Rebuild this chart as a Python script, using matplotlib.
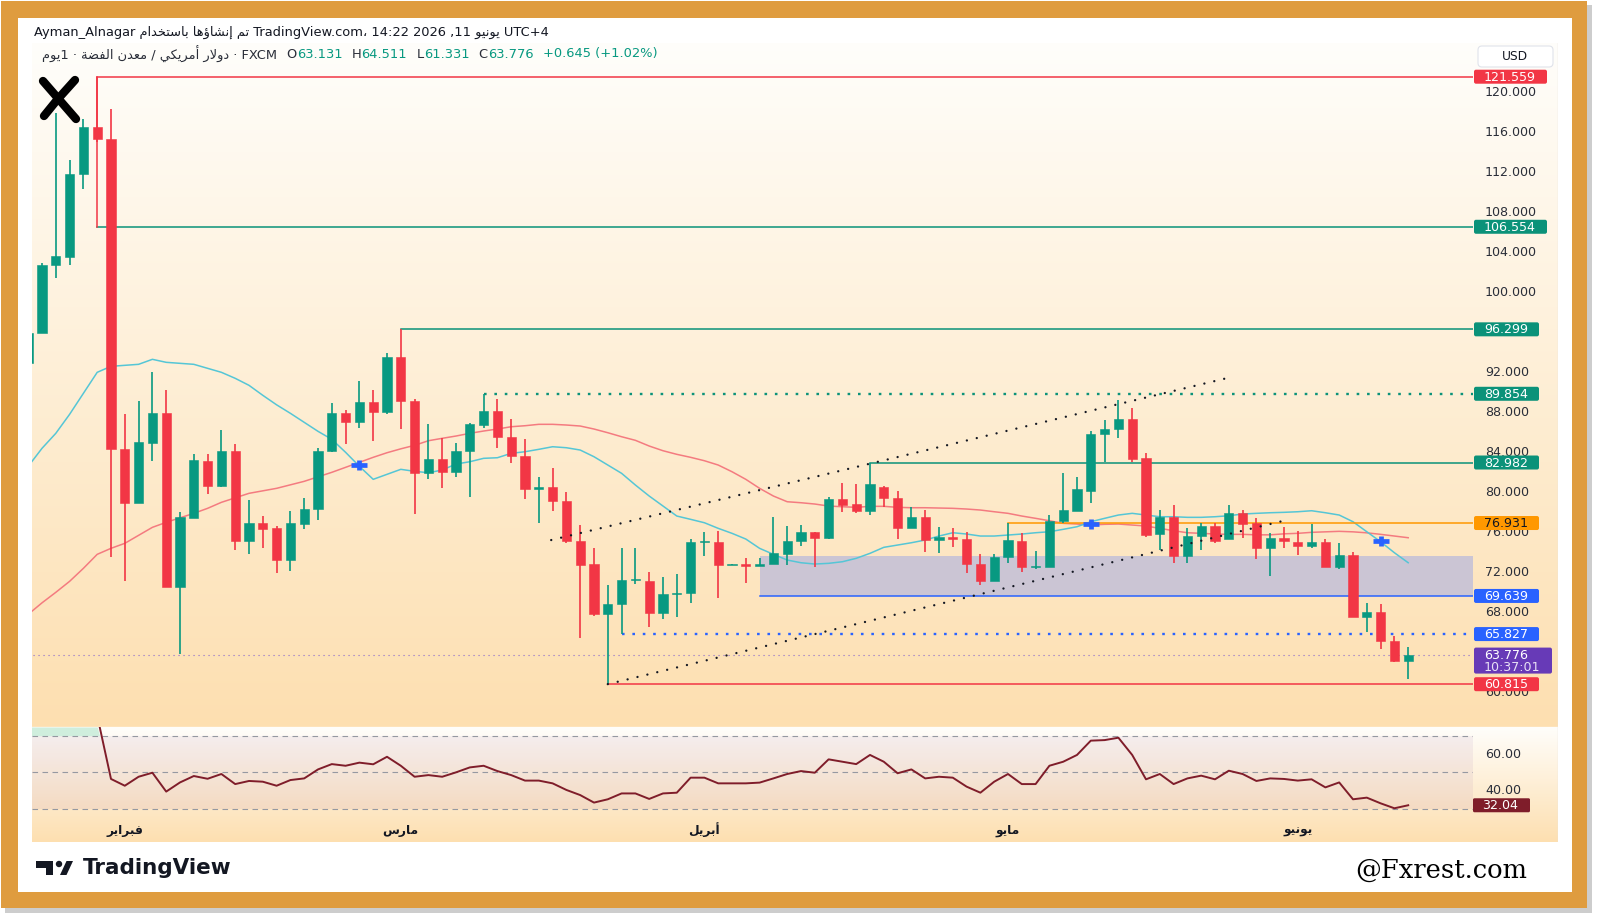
import numpy as np
import matplotlib
matplotlib.use('Agg')
import matplotlib.pyplot as plt
from matplotlib.patches import Rectangle, FancyBboxPatch, Circle, Polygon

plt.rcParams['font.family'] = ['DejaVu Sans']

# ---------------- data (daily bars, first entry is the partly hidden bar -1) ----------------
first_bar = -1
opens = [92.96,
         95.95, 102.73, 103.57, 111.81, 116.53, 115.38, 84.34, 78.98, 84.92, 87.98,
         70.55, 77.45, 83.12, 80.59, 84.15, 75.15, 76.98, 76.41, 73.23, 76.87,
         78.33, 84.15, 87.98, 87.02, 89.0, 88.06, 93.54, 89.13, 81.9, 83.3,
         82.0, 84.13, 86.73, 88.13, 85.56, 83.63, 80.33, 80.5, 79.13, 75.13,
         72.8, 67.8, 68.83, 71.2, 71.16, 67.96, 69.83, 69.9, 75.0, 75.06,
         72.73, 72.76, 72.66, 72.83, 73.83, 75.13, 76.0, 75.46, 79.33, 78.8,
         78.16, 80.56, 79.46, 76.4, 77.5, 75.23, 75.5, 75.33, 72.83, 71.16,
         73.5, 75.13, 72.5, 72.56, 77.16, 78.16, 80.16, 85.83, 86.3, 87.3,
         83.4, 75.8, 77.56, 73.63, 75.66, 76.63, 75.3, 77.96, 76.9, 74.46,
         75.46, 75.06, 74.63, 75.0, 72.5, 73.73, 67.56, 68.06, 65.16, 63.131]
highs = [96.2,
         102.9, 117.9, 113.27, 117.29, 121.559, 118.36, 87.79, 89.13, 92.0, 90.28,
         78.02, 83.84, 83.84, 86.26, 84.8, 79.25, 77.6, 76.68, 78.13, 79.44,
         84.4, 88.94, 88.2, 91.1, 90.28, 93.9, 96.299, 89.3, 86.8, 85.4,
         84.9, 86.96, 89.854, 89.3, 87.3, 85.3, 81.5, 82.46, 80.06, 76.73,
         74.4, 70.73, 74.4, 74.4, 72.06, 71.5, 71.8, 75.3, 76.06, 76.13,
         72.8, 73.4, 73.4, 77.56, 76.63, 76.7, 76.0, 79.56, 80.9, 80.8,
         82.982, 80.6, 80.16, 78.56, 78.23, 76.56, 76.4, 76.0, 73.8, 73.83,
         76.96, 75.9, 74.16, 77.73, 81.96, 81.5, 86.16, 87.23, 89.23, 88.4,
         83.9, 78.23, 78.73, 76.4, 76.9, 76.9, 78.73, 78.23, 77.46, 75.9,
         76.56, 76.16, 76.83, 75.33, 74.9, 73.996, 68.96, 68.83, 65.63, 64.511]
lows = [92.5,
        95.9, 101.4, 102.73, 110.32, 115.0, 73.5, 71.12, 78.9, 83.12, 70.5,
        63.84, 77.4, 79.82, 80.5, 74.26, 73.8, 74.45, 71.89, 72.16, 76.3,
        77.25, 84.0, 84.8, 86.45, 85.1, 87.8, 86.37, 77.83, 81.3, 80.4,
        81.56, 79.56, 86.46, 84.4, 82.9, 79.3, 76.96, 78.16, 74.9, 65.4,
        67.6, 60.815, 65.83, 70.83, 66.56, 67.33, 67.56, 68.96, 73.66, 69.46,
        72.7, 70.96, 72.6, 72.83, 72.73, 74.66, 72.56, 75.3, 78.06, 77.96,
        77.73, 78.56, 75.3, 76.4, 74.06, 73.9, 74.56, 71.9, 70.73, 71.16,
        72.9, 72.06, 72.3, 72.5, 76.96, 78.16, 78.96, 83.06, 85.46, 83.06,
        75.56, 74.23, 72.96, 72.96, 74.23, 74.9, 75.3, 75.4, 73.33, 71.63,
        74.4, 73.73, 74.4, 72.5, 72.3, 67.5, 66.06, 64.3, 63.06, 61.331]
closes = [95.95,
          102.73, 103.6, 111.85, 116.53, 115.38, 84.34, 78.98, 84.99, 87.98, 70.55,
          77.52, 83.19, 80.63, 84.15, 75.15, 76.98, 76.3, 73.23, 76.95, 78.33,
          84.15, 87.98, 87.02, 89.0, 88.06, 93.54, 89.13, 81.93, 83.3, 82.0,
          84.13, 86.8, 88.13, 85.56, 83.63, 80.33, 80.5, 79.13, 75.13, 72.73,
          67.8, 68.83, 71.23, 71.25, 67.96, 69.83, 69.9, 75.0, 75.06, 72.73,
          72.75, 72.66, 72.83, 73.9, 75.16, 76.0, 75.46, 79.33, 78.73, 78.16,
          80.83, 79.46, 76.4, 77.5, 75.23, 75.56, 75.3, 72.83, 71.16, 73.56,
          75.23, 72.5, 72.66, 77.16, 78.23, 80.3, 85.83, 86.33, 87.3, 83.3,
          75.73, 77.56, 73.63, 75.66, 76.63, 75.16, 77.96, 76.83, 74.46, 75.4,
          75.16, 74.63, 75.0, 72.5, 73.73, 67.56, 68.06, 65.13, 63.131, 63.776]
ma_fast = [82.6,
           84.4, 85.9, 87.8, 89.9, 92.0, 92.6, 92.7, 92.8, 93.3, 93.0,
           92.9, 92.8, 92.4, 92.0, 91.4, 90.7, 89.7, 88.75, 87.9, 87.0,
           86.1, 85.3, 84.0, 82.6, 81.3, 81.8, 82.3, 82.1, 81.96, 82.23,
           82.83, 83.06, 83.4, 83.46, 83.9, 84.06, 84.3, 84.56, 84.46, 84.23,
           83.56, 82.73, 81.9, 80.73, 79.63, 78.63, 77.63, 77.3, 76.96, 76.4,
           75.9, 75.33, 74.4, 73.8, 73.23, 72.96, 72.83, 72.9, 73.06, 73.4,
           73.9, 74.5, 74.73, 74.96, 75.23, 75.63, 75.96, 75.83, 75.63, 75.63,
           75.73, 75.83, 75.96, 76.06, 76.3, 76.56, 77.06, 77.4, 77.73, 77.9,
           77.73, 77.56, 77.56, 77.5, 77.5, 77.56, 77.66, 77.83, 77.9, 77.96,
           78.0, 78.06, 78.16, 77.96, 77.73, 77.06, 76.06, 75.06, 73.96, 72.96]
ma_slow = [67.8,
           68.95, 70.0, 71.1, 72.4, 73.8, 74.4, 74.9, 75.7, 76.5, 77.0,
           77.45, 77.9, 78.4, 79.0, 79.45, 79.9, 80.15, 80.4, 80.75, 81.1,
           81.55, 82.0, 82.5, 83.0, 83.5, 83.96, 84.35, 84.7, 85.16, 85.4,
           85.63, 85.9, 86.13, 86.33, 86.56, 86.66, 86.8, 86.8, 86.73, 86.63,
           86.33, 85.96, 85.56, 85.2, 84.63, 84.16, 83.8, 83.5, 83.16, 82.73,
           82.06, 81.3, 80.4, 79.63, 79.06, 78.96, 78.83, 78.63, 78.56, 78.5,
           78.6, 78.6, 78.5, 78.46, 78.46, 78.43, 78.4, 78.33, 78.23, 78.06,
           77.9, 77.63, 77.4, 77.16, 76.9, 76.83, 76.73, 76.8, 76.83, 76.73,
           76.63, 76.4, 76.16, 75.96, 75.9, 75.83, 75.8, 75.8, 75.75, 75.75,
           75.85, 75.9, 76.0, 76.05, 76.1, 76.05, 75.95, 75.8, 75.63, 75.46]
rsi = [78,
       82, 86, 88, 87, 81, 46.4, 42.7, 47.6, 49.8, 39.5,
       44.5, 48.0, 46.5, 49.1, 43.6, 45.3, 44.9, 42.7, 45.8, 46.7,
       51.6, 54.5, 53.6, 55.3, 54.4, 58.5, 53.6, 47.6, 48.5, 47.6,
       50.0, 52.7, 53.6, 50.7, 48.5, 45.5, 45.5, 44.0, 40.4, 37.6,
       33.5, 35.3, 38.5, 38.5, 35.5, 38.5, 38.9, 47.1, 47.1, 44.0,
       44.0, 44.0, 44.4, 46.7, 49.1, 50.7, 49.8, 57.1, 55.8, 54.5,
       59.5, 55.8, 49.5, 51.6, 46.7, 47.6, 47.1, 42.2, 38.9, 44.9,
       49.1, 43.6, 43.6, 53.6, 55.8, 59.5, 67.3, 67.6, 68.9, 59.5,
       46.2, 49.1, 43.6, 46.7, 48.2, 46.2, 50.9, 49.1, 45.3, 46.7,
       46.4, 45.5, 46.2, 41.8, 44.5, 35.3, 36.2, 33.1, 30.4, 32.04]

month_names = ['فبراير', 'مارس', 'أبريل', 'مايو', 'يونيو']
month_bars = [6, 26, 48, 70, 91]
price_ticks = [120, 116, 112, 108, 104, 100, 92, 88, 84, 80, 76, 72, 68, 60]
rsi_ticks = [60, 40]
rsi_levels = [70, 50, 30]

level_values = [121.559, 106.554, 96.299, 89.854, 82.982, 76.931, 69.639, 65.827, 60.815]
level_start = [4, 4, 26, 32, 60, 70, 52, 42, 41]
level_kind = ['red', 'teal', 'teal', 'teal', 'teal', 'orange', 'blue', 'blue', 'red']
level_dotted = [False, False, False, True, False, False, False, True, False]
zone_low, zone_high, zone_start = 69.639, 73.63, 52
channel_upper_bars, channel_upper_prices = [36.9, 85.9], [75.23, 91.43]
channel_lower_bars, channel_lower_prices = [41.0, 89.9], [60.82, 77.13]
cross_bars = [23, 76, 97]
cross_prices = [82.7, 76.83, 75.13]
last_price = 63.776
countdown = '10:37:01'
rsi_last = 32.04
ohlc_header = [('O', '63.131'), ('H', '64.511'), ('L', '61.331'), ('C', '63.776')]
change_text = '+0.645 (+1.02%)'

# ---------------- colours ----------------
GREEN = '#089981'; RED = '#f23645'; TEAL = '#0b9279'; ORANGE = '#ff9800'
BLUE = '#2962ff'; PURPLE = '#673ab7'; DARK = '#131722'; RSI_C = '#7f1d2a'
KIND = {'red': RED, 'teal': TEAL, 'orange': ORANGE, 'blue': BLUE}

# ---------------- Arabic shaping (presentation forms + visual order) ----------------
AR_FORMS = {
    '\u0621': ('\ufe80', None, None, None),
    '\u0622': ('\ufe81', '\ufe82', None, None),
    '\u0623': ('\ufe83', '\ufe84', None, None),
    '\u0624': ('\ufe85', '\ufe86', None, None),
    '\u0625': ('\ufe87', '\ufe88', None, None),
    '\u0627': ('\ufe8d', '\ufe8e', None, None),
    '\u0628': ('\ufe8f', '\ufe90', '\ufe91', '\ufe92'),
    '\u0629': ('\ufe93', '\ufe94', None, None),
    '\u062a': ('\ufe95', '\ufe96', '\ufe97', '\ufe98'),
    '\u062e': ('\ufea5', '\ufea6', '\ufea7', '\ufea8'),
    '\u062f': ('\ufea9', '\ufeaa', None, None),
    '\u0631': ('\ufead', '\ufeae', None, None),
    '\u0633': ('\ufeb1', '\ufeb2', '\ufeb3', '\ufeb4'),
    '\u0634': ('\ufeb5', '\ufeb6', '\ufeb7', '\ufeb8'),
    '\u0636': ('\ufebd', '\ufebe', '\ufebf', '\ufec0'),
    '\u0639': ('\ufec9', '\ufeca', '\ufecb', '\ufecc'),
    '\u0641': ('\ufed1', '\ufed2', '\ufed3', '\ufed4'),
    '\u0643': ('\ufed9', '\ufeda', '\ufedb', '\ufedc'),
    '\u0644': ('\ufedd', '\ufede', '\ufedf', '\ufee0'),
    '\u0645': ('\ufee1', '\ufee2', '\ufee3', '\ufee4'),
    '\u0646': ('\ufee5', '\ufee6', '\ufee7', '\ufee8'),
    '\u0647': ('\ufee9', '\ufeea', '\ufeeb', '\ufeec'),
    '\u0648': ('\ufeed', '\ufeee', None, None),
    '\u064a': ('\ufef1', '\ufef2', '\ufef3', '\ufef4'),
}
LAM_ALEF = {'\u0627': ('\ufefb', '\ufefc'), '\u0623': ('\ufef7', '\ufef8'),
            '\u0625': ('\ufef9', '\ufefa'), '\u0622': ('\ufef5', '\ufef6')}


def _joins_next(ch):
    f = AR_FORMS.get(ch)
    return f is not None and f[2] is not None


def ar(text):
    out = []
    i, n = 0, len(text)
    while i < n:
        ch = text[i]
        if ch not in AR_FORMS:
            out.append(ch); i += 1; continue
        conn_prev = i > 0 and _joins_next(text[i - 1])
        if ch == '\u0644' and i + 1 < n and text[i + 1] in LAM_ALEF:
            iso, fin = LAM_ALEF[text[i + 1]]
            out.append(fin if conn_prev else iso); i += 2; continue
        conn_next = _joins_next(ch) and i + 1 < n and text[i + 1] in AR_FORMS
        iso, fin, ini, med = AR_FORMS[ch]
        if conn_prev and conn_next:
            out.append(med)
        elif conn_prev:
            out.append(fin)
        elif conn_next:
            out.append(ini)
        else:
            out.append(iso)
        i += 1
    return ''.join(out)[::-1]


# ---------------- figure / layout (pixel geometry) ----------------
W, H = 1600, 921
fig = plt.figure(figsize=(W / 100, H / 100), dpi=100)

bg = fig.add_axes([0, 0, 1, 1], zorder=0)
bg.set_xlim(0, W); bg.set_ylim(H, 0); bg.axis('off')
bg.add_patch(Rectangle((5, 5), 1587, 908, color='#a5a5a5', alpha=0.55, lw=0))
bg.add_patch(Rectangle((1, 1), 1586, 907, color='#df9c3f', lw=0))
bg.add_patch(Rectangle((18, 18), 1554, 874, color='white', lw=0))

PL, PR, PT, PB = 32, 1558, 43, 842
MAIN_B, RSI_B, PLOT_R = 727, 811, 1473

gax = fig.add_axes([PL / W, 1 - PB / H, (PR - PL) / W, (PB - PT) / H], zorder=1)
ys = np.arange(PT, PB) + 0.5
top_c = np.array([255, 254, 251]) / 255
bot_c = np.array([253, 223, 176]) / 255
tt = np.where(ys < MAIN_B, (ys - PT) / (MAIN_B - PT), (ys - MAIN_B) / (PB - MAIN_B))
grad = top_c[None, :] * (1 - tt[:, None]) + bot_c[None, :] * tt[:, None]
gax.imshow(grad[:, None, :], aspect='auto', extent=(0, 1, 0, 1), interpolation='bilinear')
gax.axis('off')
gax.plot([1, 1], [0, 1], color='#e6e3df', lw=1)

BAR_PX = 13.8
x0 = first_bar
xl = (-0.7246, -0.7246 + (PLOT_R - PL) / BAR_PX)

ax = fig.add_axes([PL / W, 1 - MAIN_B / H, (PLOT_R - PL) / W, (MAIN_B - PT) / H], zorder=2)
ax.set_xlim(*xl); ax.set_ylim(56.535, 124.93)
ax.axis('off')

rax = fig.add_axes([PL / W, 1 - RSI_B / H, (PLOT_R - PL) / W, (RSI_B - MAIN_B) / H], zorder=2)
rax.set_xlim(*xl); rax.set_ylim(28.91, 74.75)
rax.axis('off')

fg = fig.add_axes([0, 0, 1, 1], zorder=10)
fg.set_xlim(0, W); fg.set_ylim(H, 0); fg.axis('off')

# ---------------- main pane ----------------
o = np.array(opens); h = np.array(highs); l = np.array(lows); c = np.array(closes)
x = np.arange(len(o)) + x0
col = np.where(c >= o, GREEN, RED)

ax.add_patch(Rectangle((zone_start, zone_low), xl[1] - zone_start, zone_high - zone_low,
                       facecolor='#c9c4d6', edgecolor='none', alpha=0.95, zorder=1))

ax.plot(x, ma_slow, color='#f47b80', lw=1.1, zorder=3)
ax.plot(x, ma_fast, color='#55c6d6', lw=1.1, zorder=3)

for v, s, k, d in zip(level_values, level_start, level_kind, level_dotted):
    if d:
        ax.plot([s, xl[1]], [v, v], color=KIND[k], lw=1.7, ls=(0, (1.1, 3.3)), zorder=3)
    else:
        ax.plot([s, xl[1]], [v, v], color=KIND[k], lw=1.1, zorder=3)
ax.plot([level_start[0], level_start[0]], [level_values[1], level_values[0]], color=RED, lw=1.1, zorder=3)
ax.plot([x[0], xl[1]], [last_price, last_price], color='#8a6ad0', lw=0.8, ls=(0, (1, 3.5)), zorder=3)

ax.plot(channel_upper_bars, channel_upper_prices, color=DARK, lw=1.7, ls=(0, (0.01, 4.3)),
        dash_capstyle='round', zorder=6)
ax.plot(channel_lower_bars, channel_lower_prices, color=DARK, lw=1.7, ls=(0, (0.01, 4.3)),
        dash_capstyle='round', zorder=6)

ax.vlines(x, l, h, colors=col, lw=1.2, zorder=4)
body_lo = np.minimum(o, c)
body_h = np.maximum(np.abs(c - o), 0.14)
ax.bar(x, body_h, width=0.66, bottom=body_lo, color=col, edgecolor=col, lw=0.4, zorder=5)

ax.plot(cross_bars, cross_prices, ls='none', marker='_', ms=11.5, mew=3.4, color=BLUE, zorder=7)
ax.plot(cross_bars, cross_prices, ls='none', marker='|', ms=7.5, mew=3.4, color=BLUE, zorder=7)

# ---------------- RSI pane ----------------
rv = np.array(rsi)
rax.fill_between(xl, 30, 70, color='#9a62a6', alpha=0.09, lw=0, zorder=1)
rax.fill_between(x, 70, np.minimum(rv, 74.75), where=rv > 70, interpolate=True,
                 color='#cfeedd', lw=0, zorder=1)
for lv in rsi_levels:
    rax.plot(xl, [lv, lv], color='#9598a1', lw=0.8, ls=(0, (5, 4)), zorder=2)
rax.plot(x, rv, color=RSI_C, lw=1.4, zorder=3)


def py(ax_, v):
    return H - ax_.transData.transform((0, v))[1]


def px(i):
    return ax.transData.transform((i, 0))[0]


TICK_FS = 9.1
for p in price_ticks:
    fg.text(1485, py(ax, p), f'{p:.3f}', fontsize=TICK_FS, color='#2a2e39', va='center', ha='left')
for p in rsi_ticks:
    fg.text(1485, py(rax, p), f'{p:.2f}', fontsize=TICK_FS, color='#2a2e39', va='center', ha='left')


def label_box(yc, text, face, txtc, w=64, hgt=14):
    fg.add_patch(FancyBboxPatch((1474, yc - hgt / 2), w, hgt, boxstyle='round,pad=0,rounding_size=2',
                                facecolor=face, edgecolor='none', zorder=11))
    fg.text(1484, yc + 0.5, text, fontsize=TICK_FS, color=txtc, va='center', ha='left', zorder=12)


for v, k in zip(level_values, level_kind):
    label_box(py(ax, v), f'{v:.3f}', KIND[k], DARK if k == 'orange' else 'white',
              w=65 if v < 100 else 73)

ycur = py(ax, last_price)
fg.add_patch(FancyBboxPatch((1474, ycur - 7), 78, 26, boxstyle='round,pad=0,rounding_size=2',
                            facecolor=PURPLE, edgecolor='none', zorder=11))
fg.text(1484, ycur + 0.5, f'{last_price:.3f}', fontsize=TICK_FS, color='white', va='center', zorder=12)
fg.text(1484, ycur + 12.5, countdown, fontsize=TICK_FS, color='#e8e0f5', va='center', zorder=12)

yr = py(rax, rsi_last)
fg.add_patch(FancyBboxPatch((1473, yr - 7), 57, 14, boxstyle='round,pad=0,rounding_size=1.5',
                            facecolor=RSI_C, edgecolor='none', zorder=11))
fg.text(1482, yr + 0.5, f'{rsi_last:.2f}', fontsize=TICK_FS, color='white', va='center', zorder=12)

fg.add_patch(FancyBboxPatch((1478, 46), 75, 21, boxstyle='round,pad=0,rounding_size=4',
                            facecolor='white', edgecolor='#e0e3eb', lw=0.8, zorder=11))
fg.text(1515, 56.5, 'USD', fontsize=8.8, color=DARK, ha='center', va='center', zorder=12)

for name, b in zip(month_names, month_bars):
    fg.text(px(b), 830, ar(name), fontsize=8.8, fontweight='bold', color=DARK,
            ha='center', va='center')

# ---------------- header ----------------
line1 = ('Ayman_Alnagar ' + ar('تم إنشاؤها باستخدام') + ' TradingView.com، 14:22 2026 ,11 '
         + ar('يونيو') + ' UTC+4')
fg.text(34, 32, line1, fontsize=9.4, color=DARK, va='center', ha='left')

renderer = fig.canvas.get_renderer()
pieces = [(ar('دولار أمريكي / معدن الفضة · 1يوم') + ' · FXCM', '#2a2e39', 9)]
for k, v in ohlc_header:
    pieces.append((k, '#2a2e39', 0.5))
    pieces.append((v, GREEN, 9))
pieces.append((change_text, GREEN, 0))
xc = 42
for s, colr, gap in pieces:
    t = fg.text(xc, 54, s, fontsize=9.4, color=colr, va='center', ha='left')
    xc += t.get_window_extent(renderer=renderer).width + gap

# ---------------- logos / watermark ----------------
fg.plot([43, 76], [81, 119], color='black', lw=6, solid_capstyle='round')
fg.plot([75, 57, 44], [80, 100, 116], color='black', lw=6, solid_capstyle='round',
        solid_joinstyle='round')

fg.add_patch(Rectangle((36, 861), 17, 6.5, color=DARK, lw=0))
fg.add_patch(Rectangle((46, 861), 7, 14, color=DARK, lw=0))
fg.add_patch(Circle((59, 864), 3.2, color=DARK, lw=0))
fg.add_patch(Polygon([(60, 875), (66.5, 875), (73, 861), (66.5, 861)], closed=True, color=DARK, lw=0))
fg.text(83, 867.5, 'TradingView', fontsize=15.5, fontweight='bold', color=DARK, va='center', ha='left')

fg.text(1355, 870, '@Fxrest.com', fontsize=18.5, family='DejaVu Serif', color='black',
        va='center', ha='left')

fig.savefig('out.png', dpi=100)
